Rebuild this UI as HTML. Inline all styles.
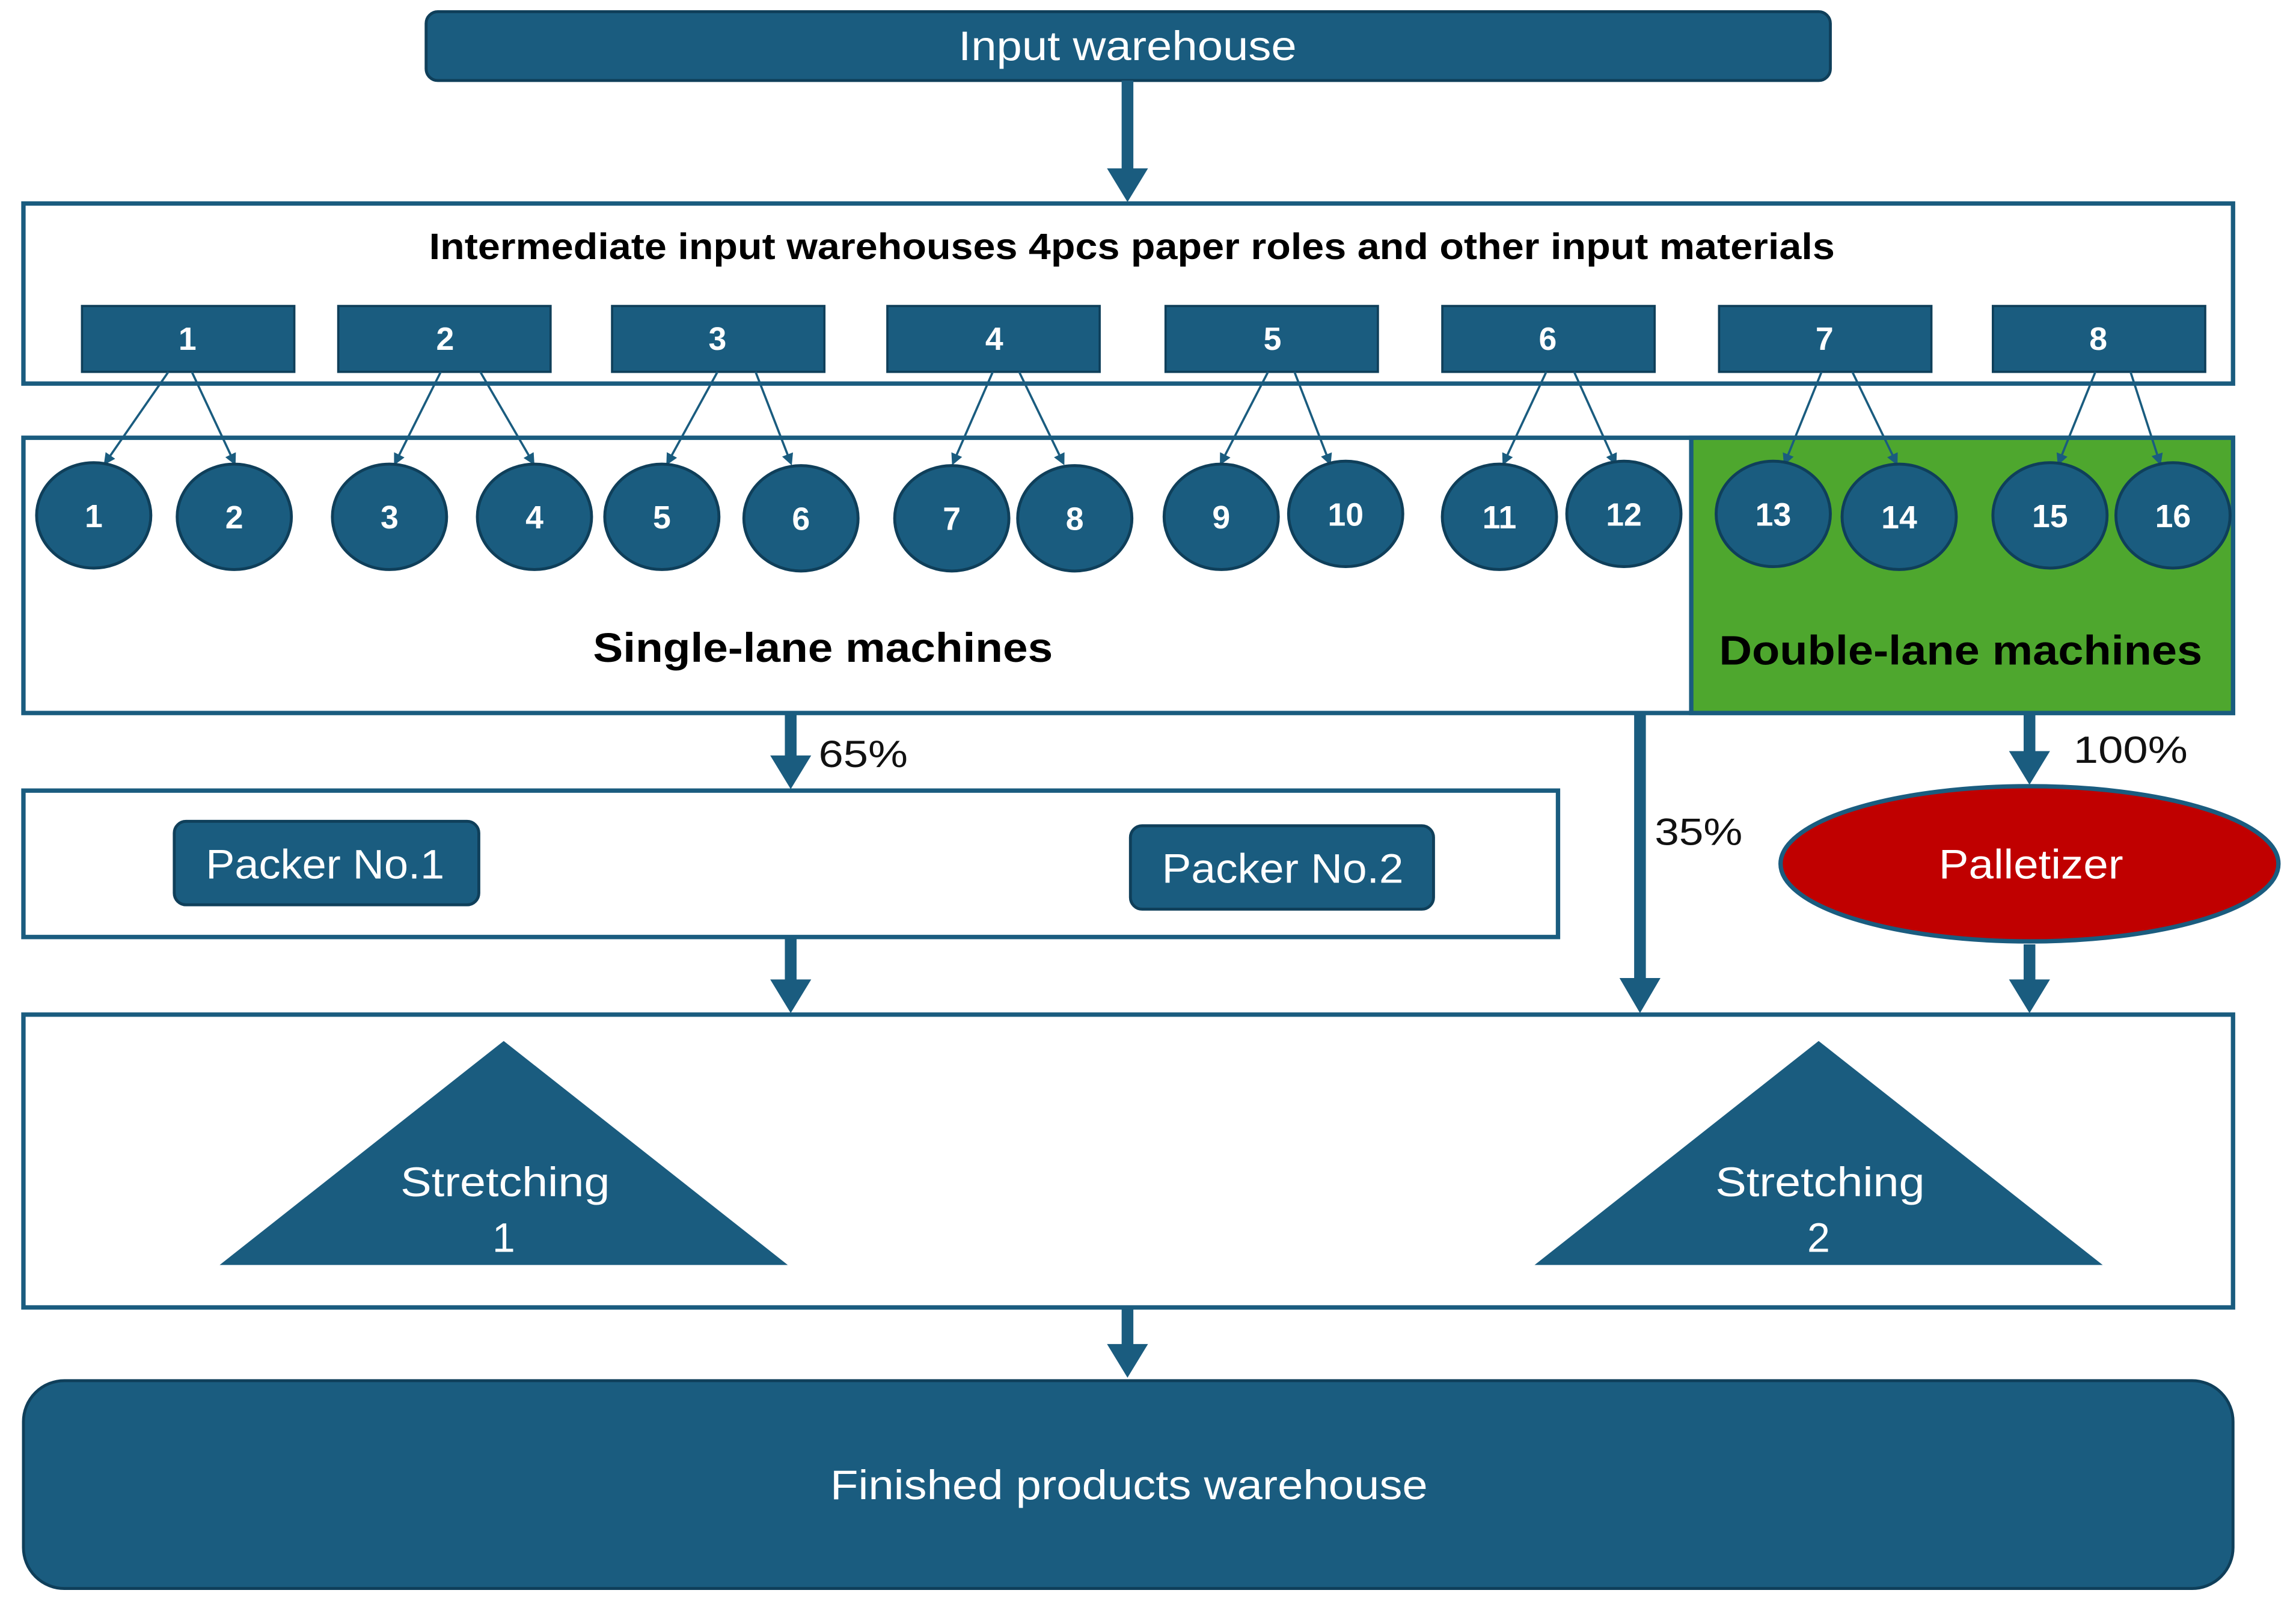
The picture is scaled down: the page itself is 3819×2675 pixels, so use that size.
<!DOCTYPE html>
<html><head><meta charset="utf-8"><style>html,body{margin:0;padding:0;background:#fff}svg{display:block}</style></head>
<body>
<svg width="3819" height="2675" viewBox="0 0 1568 1098.3" xmlns="http://www.w3.org/2000/svg" font-family="Liberation Sans, sans-serif">
<defs>
<marker id="t" markerWidth="8" markerHeight="8" refX="6" refY="4" orient="auto" markerUnits="userSpaceOnUse"><path d="M0,0 L8,4 L0,8 z" fill="#1a5c7f"/></marker>
</defs>
<rect x="291" y="8" width="959" height="47" rx="8" fill="#1a5c7f" stroke="#0f3f5a" stroke-width="2"/>
<text x="770" y="41" font-size="28" fill="#fff" text-anchor="middle" textLength="231" lengthAdjust="spacingAndGlyphs">Input warehouse</text>
<g fill="#1a5c7f">
<rect x="766" y="55" width="8" height="62"/><polygon points="756,115 784,115 770,138"/>
<rect x="536" y="487" width="8" height="32"/><polygon points="526,516 554,516 540,539"/>
<rect x="1116" y="487" width="8" height="184"/><polygon points="1106,668 1134,668 1120,692"/>
<rect x="1382" y="487" width="8" height="28"/><polygon points="1372,513 1400,513 1386,536"/>
<rect x="536" y="640" width="8" height="32"/><polygon points="526,669 554,669 540,692"/>
<rect x="1382" y="645" width="8" height="27"/><polygon points="1372,669 1400,669 1386,692"/>
<rect x="766" y="893" width="8" height="28"/><polygon points="756,918 784,918 770,941"/>
</g>
<rect x="16" y="139" width="1509" height="123" fill="#fff" stroke="#1a5c7f" stroke-width="3"/>
<text x="773" y="177" font-size="25" font-weight="bold" text-anchor="middle" fill="#000" textLength="960" lengthAdjust="spacingAndGlyphs">Intermediate input warehouses 4pcs paper roles and other input materials</text>
<g fill="#1a5c7f" stroke="#0f3f5a" stroke-width="1.5">
<rect x="56" y="209" width="145" height="45"/><rect x="231" y="209" width="145" height="45"/>
<rect x="418" y="209" width="145" height="45"/><rect x="606" y="209" width="145" height="45"/>
<rect x="796" y="209" width="145" height="45"/><rect x="985" y="209" width="145" height="45"/>
<rect x="1174" y="209" width="145" height="45"/><rect x="1361" y="209" width="145" height="45"/>
</g>
<g fill="#fff" font-size="22" font-weight="bold" text-anchor="middle">
<text x="128" y="239">1</text><text x="304" y="239">2</text><text x="490" y="239">3</text><text x="679" y="239">4</text>
<text x="869" y="239">5</text><text x="1057" y="239">6</text><text x="1246" y="239">7</text><text x="1433" y="239">8</text>
</g>
<rect x="16" y="299" width="1509" height="188" fill="#fff" stroke="#1a5c7f" stroke-width="3"/>
<rect x="1155" y="299" width="370" height="188" fill="#4ea72e" stroke="#1a5c7f" stroke-width="3"/>
<g stroke="#1a5c7f" stroke-width="1.5" marker-end="url(#t)">
<line x1="115" y1="254" x2="72" y2="316"/><line x1="131" y1="254" x2="160" y2="316"/>
<line x1="301" y1="254" x2="270" y2="316"/><line x1="328" y1="254" x2="364" y2="316"/>
<line x1="490" y1="254" x2="456" y2="316"/><line x1="516" y1="254" x2="540" y2="316"/>
<line x1="678" y1="254" x2="651" y2="316"/><line x1="696" y1="254" x2="726" y2="316"/>
<line x1="866" y1="254" x2="834" y2="316"/><line x1="884" y1="254" x2="908" y2="316"/>
<line x1="1056" y1="254" x2="1027" y2="316"/><line x1="1075" y1="254" x2="1103" y2="316"/>
<line x1="1244" y1="254" x2="1219" y2="316"/><line x1="1265" y1="254" x2="1295" y2="316"/>
<line x1="1431" y1="254" x2="1406" y2="316"/><line x1="1455" y1="254" x2="1475" y2="316"/>
</g>
<g fill="#1a5c7f" stroke="#0f3f5a" stroke-width="2">
<ellipse cx="64" cy="352" rx="39" ry="36"/><ellipse cx="160" cy="353" rx="39" ry="36"/>
<ellipse cx="266" cy="353" rx="39" ry="36"/><ellipse cx="365" cy="353" rx="39" ry="36"/>
<ellipse cx="452" cy="353" rx="39" ry="36"/><ellipse cx="547" cy="354" rx="39" ry="36"/>
<ellipse cx="650" cy="354" rx="39" ry="36"/><ellipse cx="734" cy="354" rx="39" ry="36"/>
<ellipse cx="834" cy="353" rx="39" ry="36"/><ellipse cx="919" cy="351" rx="39" ry="36"/>
<ellipse cx="1024" cy="353" rx="39" ry="36"/><ellipse cx="1109" cy="351" rx="39" ry="36"/>
<ellipse cx="1211" cy="351" rx="39" ry="36"/><ellipse cx="1297" cy="353" rx="39" ry="36"/>
<ellipse cx="1400" cy="352" rx="39" ry="36"/><ellipse cx="1484" cy="352" rx="39" ry="36"/>
</g>
<g fill="#fff" font-size="22" font-weight="bold" text-anchor="middle">
<text x="64" y="360">1</text><text x="160" y="361">2</text><text x="266" y="361">3</text><text x="365" y="361">4</text>
<text x="452" y="361">5</text><text x="547" y="362">6</text><text x="650" y="362">7</text><text x="734" y="362">8</text>
<text x="834" y="361">9</text><text x="919" y="359">10</text><text x="1024" y="361">11</text><text x="1109" y="359">12</text>
<text x="1211" y="359">13</text><text x="1297" y="361">14</text><text x="1400" y="360">15</text><text x="1484" y="360">16</text>
</g>
<text x="562" y="452" font-size="28" font-weight="bold" text-anchor="middle" textLength="314" lengthAdjust="spacingAndGlyphs">Single-lane machines</text>
<text x="1339" y="454" font-size="28" font-weight="bold" text-anchor="middle" textLength="330" lengthAdjust="spacingAndGlyphs">Double-lane machines</text>
<g font-size="26" fill="#111">
<text x="559" y="524" textLength="61" lengthAdjust="spacingAndGlyphs">65%</text>
<text x="1130" y="577" textLength="60" lengthAdjust="spacingAndGlyphs">35%</text>
<text x="1416" y="521" textLength="78" lengthAdjust="spacingAndGlyphs">100%</text>
</g>
<rect x="16" y="540" width="1048" height="100" fill="#fff" stroke="#1a5c7f" stroke-width="3"/>
<rect x="119" y="561" width="208" height="57" rx="8" fill="#1a5c7f" stroke="#0f3f5a" stroke-width="2"/>
<rect x="772" y="564" width="207" height="57" rx="8" fill="#1a5c7f" stroke="#0f3f5a" stroke-width="2"/>
<text x="222" y="600" font-size="28" fill="#fff" text-anchor="middle" textLength="163" lengthAdjust="spacingAndGlyphs">Packer No.1</text>
<text x="876" y="603" font-size="28" fill="#fff" text-anchor="middle" textLength="165" lengthAdjust="spacingAndGlyphs">Packer No.2</text>
<ellipse cx="1386" cy="590" rx="170" ry="53" fill="#c00000" stroke="#1a5c7f" stroke-width="3"/>
<text x="1387" y="600" font-size="28" fill="#fff" text-anchor="middle" textLength="126" lengthAdjust="spacingAndGlyphs">Palletizer</text>
<rect x="16" y="693" width="1509" height="200" fill="#fff" stroke="#1a5c7f" stroke-width="3"/>
<polygon points="150,864 344,711 538,864" fill="#1a5c7f"/>
<polygon points="1048,864 1242,711 1436,864" fill="#1a5c7f"/>
<g font-size="28" fill="#fff" text-anchor="middle">
<text x="345" y="817" textLength="143" lengthAdjust="spacingAndGlyphs">Stretching</text><text x="344" y="855">1</text>
<text x="1243" y="817" textLength="143" lengthAdjust="spacingAndGlyphs">Stretching</text><text x="1242" y="855">2</text>
</g>
<rect x="16" y="943" width="1509" height="142" rx="28" fill="#1a5c7f" stroke="#0f3f5a" stroke-width="2"/>
<text x="771" y="1024" font-size="28" fill="#fff" text-anchor="middle" textLength="408" lengthAdjust="spacingAndGlyphs">Finished products warehouse</text>
</svg>
</body></html>
